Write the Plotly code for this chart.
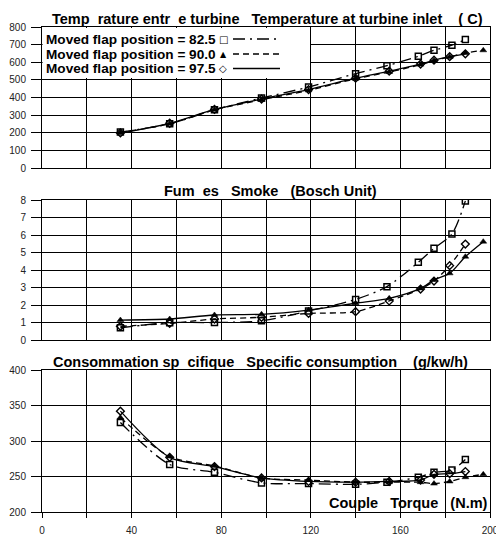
import plotly.graph_objects as go
from plotly.subplots import make_subplots

# Torque (N.m) at each measured point, per flap position
torque_825 = [35, 57, 77, 98, 119, 140, 154, 168, 175, 183, 189]
torque_900 = [35, 57, 77, 98, 119, 140, 155, 169, 175, 182, 189, 197]
torque_975 = [35, 57, 77, 98, 119, 140, 155, 169, 175, 182, 189]

# Temperature at turbine inlet (C)
temp_825 = [205, 252, 331, 398, 460, 536, 581, 634, 668, 697, 729]
temp_900 = [203, 252, 331, 388, 441, 507, 545, 587, 610, 630, 653, 668]
temp_975 = [200, 255, 333, 392, 446, 510, 550, 590, 612, 632, 648]

# Smoke (Bosch unit)
smoke_825 = [0.70, 0.99, 1.00, 1.10, 1.66, 2.32, 3.05, 4.44, 5.24, 6.06, 7.95]
smoke_900 = [1.14, 1.20, 1.43, 1.47, 1.71, 2.10, 2.38, 2.95, 3.43, 3.81, 4.76, 5.62]
smoke_975 = [0.78, 0.95, 1.20, 1.30, 1.52, 1.62, 2.23, 2.91, 3.37, 4.25, 5.48]

# Specific consumption (g/kw/h)
cons_825 = [326, 267, 256, 241, 240, 239, 242, 249, 256, 259, 274]
cons_900 = [333, 278, 265, 248, 245, 242, 242, 242, 240, 243, 249, 253]
cons_975 = [342, 277, 264, 248, 243, 242, 243, 245, 253, 254, 257]

series_names = ["Moved flap position = 82.5",
                "Moved flap position = 90.0",
                "Moved flap position = 97.5"]

x_grid = list(range(0, 201, 20))
x_labels = ["0", "", "40", "", "80", "", "120", "", "160", "", "200"]

NB = "\u00a0"
titles = [
    f"Temp{NB*2}rature entr{NB*2}e turbine{NB*3}Temperature at turbine inlet{NB*4}({NB}C)",
    f"Fum{NB*2}es{NB*3}Smoke{NB*3}(Bosch Unit)",
    f"Consommation sp{NB*2}cifique{NB*3}Specific consumption{NB*4}(g/kw/h)",
]
x_title = f"Couple{NB*3}Torque{NB*3}(N.m)"

FONT = "Arial, Liberation Sans, sans-serif"
W, H = 496, 537
ML, MR, MT, MB = 42, 6, 27, 25
PW, PH = W - ML - MR, H - MT - MB


def px_x(px):
    return (px - ML) / PW


def px_y(py):
    return (H - MB - py) / PH


markers = [
    dict(symbol="square-open", size=6, color="black", line=dict(width=1.5, color="black")),
    dict(symbol="triangle-up", size=6, color="black", line=dict(width=0.5, color="black")),
    dict(symbol="diamond-open", size=6, color="black", line=dict(width=1.4, color="black")),
]
DASHDOT = "12px,5px,2px,5px"
DASH = "6px,4px"

panels = [
    ([torque_825, torque_900, torque_975], [temp_825, temp_900, temp_975], [DASHDOT, DASH, "solid"]),
    ([torque_825, torque_900, torque_975], [smoke_825, smoke_900, smoke_975], [DASHDOT, "solid", DASH]),
    ([torque_825, torque_900, torque_975], [cons_825, cons_900, cons_975], [DASHDOT, DASH, "solid"]),
]

fig = make_subplots(rows=3, cols=1)

for row, (xs, ys, dashes) in enumerate(panels, start=1):
    for i in range(3):
        fig.add_trace(go.Scatter(
            x=xs[i], y=ys[i], name=series_names[i],
            mode="lines+markers",
            line=dict(color="black", width=1.3, dash=dashes[i], shape="spline", smoothing=0.8),
            marker=markers[i], showlegend=False,
        ), row=row, col=1)

domains = [
    (px_y(168.3), 1.0),
    (px_y(340), px_y(200)),
    (0.0, px_y(370)),
]
y_ranges = [(0, 800, 100), (0, 8, 1), (200, 400, 50)]

for i in range(3):
    last = i == 2
    lo, hi, step = y_ranges[i]
    fig.update_xaxes(
        range=[0, 200], tickmode="array",
        tickvals=x_grid, ticktext=x_labels,
        showticklabels=last, ticks="outside" if last else "",
        ticklen=5, tickcolor="black", ticklabelstandoff=4,
        ticklabeloverflow="allow",
        tickfont=dict(family=FONT, size=10, color="#222"),
        row=i + 1, col=1)
    fig.update_yaxes(
        domain=list(domains[i]), range=[lo, hi], dtick=step,
        ticks="outside", ticklen=10, tickcolor="black", ticklabelstandoff=3,
        tickfont=dict(family=FONT, size=10, color="#222"),
        row=i + 1, col=1)

fig.update_xaxes(automargin=False, showgrid=True, gridcolor="black", gridwidth=1,
                 showline=True, linecolor="black", mirror=True, zeroline=False)
fig.update_yaxes(automargin=False, showgrid=True, gridcolor="black", gridwidth=1,
                 showline=True, linecolor="black", mirror=True, zeroline=False)

TITLE_SIZE = 14.5
annotations = []
title_pos = [(267, 19), (270, 191), (260, 362)]
for t, (cx, cy) in zip(titles, title_pos):
    annotations.append(dict(text=f"<b>{t}</b>", x=px_x(cx), y=px_y(cy), xref="paper", yref="paper",
                            xanchor="center", yanchor="middle", showarrow=False,
                            font=dict(family=FONT, size=TITLE_SIZE, color="black")))
annotations.append(dict(text=f"<b>{x_title}</b>", x=px_x(490), y=px_y(503), xref="paper", yref="paper",
                        xanchor="right", yanchor="middle", showarrow=False,
                        font=dict(family=FONT, size=TITLE_SIZE, color="black")))

# Legend block in the top panel: white backing, label, marker glyph, line sample
shapes = [dict(type="rect", xref="paper", yref="paper",
               x0=px_x(42.6), x1=px_x(310), y0=px_y(78), y1=px_y(27.9),
               fillcolor="white", line=dict(width=0), layer="above")]
legend_rows = [39, 54, 68.5]
glyphs = ["\u25a1", "\u25b2", "\u25c7"]
glyph_sizes = [10, 8, 10]
for i in range(3):
    ry = legend_rows[i]
    annotations.append(dict(text=f"<b>{series_names[i]}</b>", x=px_x(44), y=px_y(ry),
                            xref="paper", yref="paper", xanchor="left", yanchor="middle",
                            showarrow=False, font=dict(family=FONT, size=13.6, color="black")))
    annotations.append(dict(text=glyphs[i], x=px_x(223), y=px_y(ry), xref="paper", yref="paper",
                            xanchor="center", yanchor="middle", showarrow=False,
                            font=dict(family="DejaVu Sans", size=glyph_sizes[i], color="black")))
    shapes.append(dict(type="line", xref="paper", yref="paper",
                       x0=px_x(233), x1=px_x(280), y0=px_y(ry), y1=px_y(ry),
                       line=dict(color="black", width=1.3,
                                 dash=[DASHDOT, DASH, "solid"][i]), layer="above"))

fig.update_layout(
    width=W, height=H,
    margin=dict(l=ML, r=MR, t=MT, b=MB, autoexpand=False),
    paper_bgcolor="white", plot_bgcolor="rgba(0,0,0,0)",
    showlegend=False,
    annotations=annotations, shapes=shapes,
    font=dict(family=FONT, color="black"),
)

fig.write_html("out.html")
